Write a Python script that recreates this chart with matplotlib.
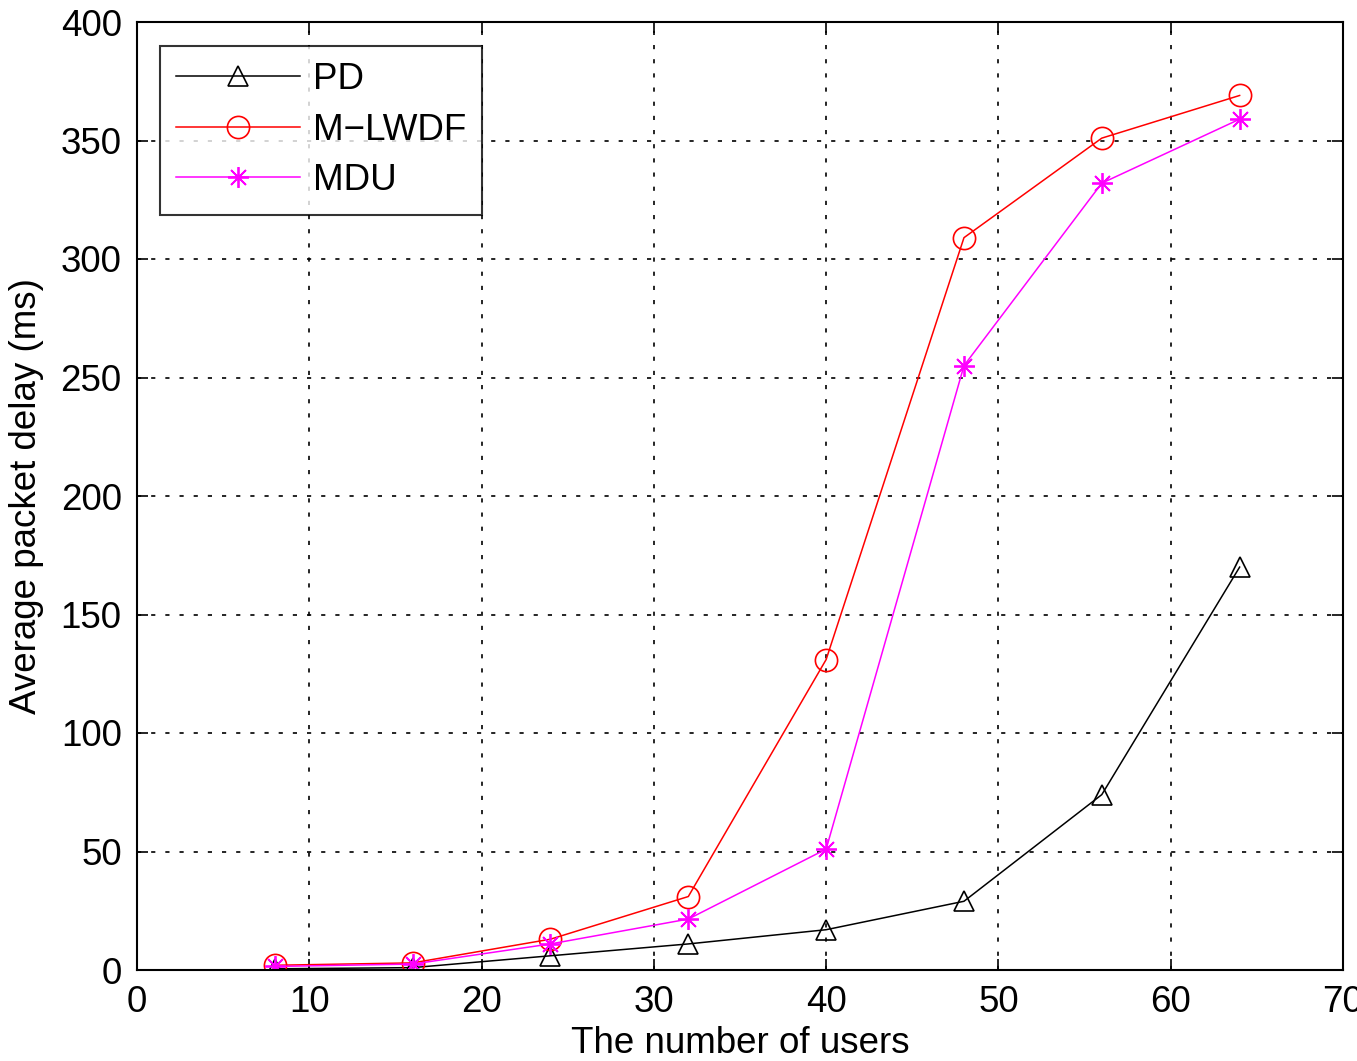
import matplotlib
matplotlib.use("Agg")
import matplotlib.pyplot as plt

users = [8, 16, 24, 32, 40, 48, 56, 64]
pd_delay = [0.5, 1.0, 6, 11, 17, 29, 74, 170]
mlwdf_delay = [2.0, 3.0, 13, 31, 131, 309, 351, 369]
mdu_delay = [1.5, 2.5, 11, 21.5, 51, 255, 332, 359]

x_ticks = [0, 10, 20, 30, 40, 50, 60, 70]
y_ticks = [0, 50, 100, 150, 200, 250, 300, 350, 400]

plt.rcParams['font.family'] = ['Liberation Sans', 'DejaVu Sans']
FS = 26.5

fig = plt.figure(figsize=(13.57, 10.61), dpi=100)
ax = fig.add_axes([137/1357, 91/1061, (1343-137)/1357, (970-22)/1061])

ax.plot(users, pd_delay, color='black', lw=1.1, marker='^', ms=15,
        mfc='none', mec='black', mew=1.2, label='PD')
ax.plot(users, mlwdf_delay, color='red', lw=1.1, marker='o', ms=16,
        mfc='none', mec='red', mew=1.2, label='M\u2212LWDF')
ax.plot(users, mdu_delay, color='magenta', lw=1.1, marker=(8, 2, 0), ms=15,
        mec='magenta', mew=1.3, label='MDU')

ax.set_xlim(0, 70)
ax.set_ylim(0, 400)
ax.set_xticks(x_ticks)
ax.set_yticks(y_ticks)
ax.tick_params(direction='in', length=8, width=1.2, labelsize=FS,
               top=True, right=True, pad=11)
for s in ax.spines.values():
    s.set_linewidth(1.5)
ax.grid(True, color='black', linestyle=(0, (2.5, 6)), linewidth=1.2)
ax.set_axisbelow(True)

ax.set_xlabel('The number of users', fontsize=FS, labelpad=4)
ax.set_ylabel('Average packet delay (ms)', fontsize=FS, labelpad=12)

leg = ax.legend(loc='upper left', bbox_to_anchor=(0.019, 0.975), fontsize=FS,
                frameon=True, fancybox=False, edgecolor='black',
                handlelength=3.35, handletextpad=0.35, borderpad=0.45,
                labelspacing=0.42, borderaxespad=0)
leg.get_frame().set_linewidth(1.5)

fig.savefig('out.png', dpi=100)
